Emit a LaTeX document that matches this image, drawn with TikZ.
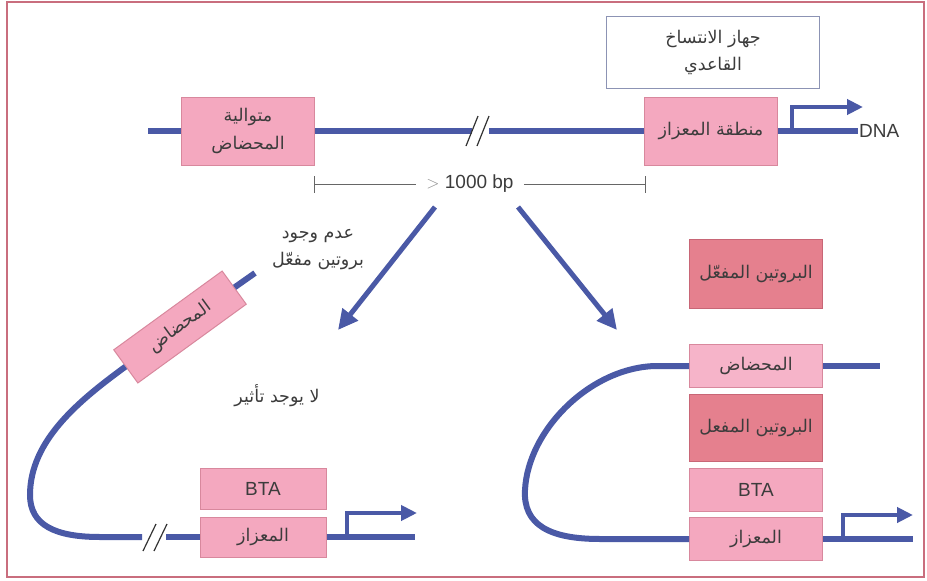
\documentclass[tikz,border=0pt]{standalone}
\usepackage{fontspec}
\setmainfont{Liberation Sans}
\newfontfamily\arabicfont[Script=Arabic]{DejaVu Sans}
\TeXXeTstate=1
\usetikzlibrary{arrows.meta}
\newcommand{\arab}[1]{\beginR#1\endR}
\definecolor{azul}{HTML}{4A59A6}
\definecolor{rosa}{HTML}{F4A8BF}
\definecolor{rosaclaro}{HTML}{F6B4C9}
\definecolor{rosaborda}{HTML}{D8889D}
\definecolor{rosaesc}{HTML}{E5808E}
\definecolor{rosaescborda}{HTML}{C86676}
\definecolor{cinzaborda}{HTML}{8C93B4}
\definecolor{texto}{HTML}{3C3C3C}
\definecolor{moldura}{HTML}{C96E7E}
\begin{document}
\begin{tikzpicture}[x=1pt,y=-1pt]
\tikzstyle{fita}=[line width=6pt, draw=azul]
\tikzstyle{caixa}=[rectangle, draw=rosaborda, line width=1pt, fill=rosa, minimum width=133pt, minimum height=68pt, inner sep=2pt, align=center, text=texto, font=\arabicfont\fontsize{17.5}{28}\selectfont]
\tikzstyle{caixaesc}=[caixa, fill=rosaesc, draw=rosaescborda]
\tikzstyle{latim}=[font=\fontsize{19}{21}\selectfont]
\tikzstyle{rotulo}=[text=texto, align=center, font=\arabicfont\fontsize{17.5}{27}\selectfont]
\tikzstyle{seta}=[line width=5pt, draw=azul, -{Triangle[length=20pt, width=19pt]}]
\tikzstyle{inicio}=[line width=4.5pt, draw=azul, -{Triangle[length=16pt, width=15pt]}]
\tikzstyle{quebra}=[line width=1.2pt, draw=black!80]
\tikzstyle{regua}=[line width=0.8pt, draw=black!60]
\useasboundingbox(0,0)rectangle(927,581);
\draw[moldura, line width=2pt](7,2)rectangle(924,577);
%top strand
\node[draw=cinzaborda, line width=0.8pt, minimum width=213pt, minimum height=72pt, rotulo](basal)at(713,52){\arab{جهاز الانتساخ}\\\arab{القاعدي}};
\node[caixa](enhT)at(248,131){\arab{متوالية}\\\arab{المحضاض}};
\node[caixa](promT)at(711,131){\arab{منطقة المعزاز}};
\coordinate(dnaA)at(148,131);
\coordinate(q1)at(472,131);
\coordinate(q2)at(489,131);
\coordinate(dnaB)at(858,131);
\draw[fita](dnaA)--(enhT.west) (enhT.east)--(q1) (q2)--(promT.west) (promT.east)--(dnaB);
\draw[quebra](466,146)--(478,116) (477,146)--(489,116);
\coordinate(tssT)at(792,131);
\coordinate(tipT)at(863,107);
\draw[inicio](tssT)|-(tipT);
\node[right, inner sep=1pt, text=texto, latim](dnalbl)at(dnaB){DNA};
%distance
\node[text=texto, latim, inner xsep=10pt](bp)at(470,184){\textcolor{black!45}{$>$} 1000 bp};
\coordinate(r1)at(314,184);
\coordinate(r2)at(645,184);
\draw[regua](r1)--(bp.west) (bp.east)--(r2) (314,176)--(314,193) (645,176)--(645,193);
\coordinate(s1)at(435,207);
\coordinate(s2)at(338,330);
\coordinate(s3)at(518,207);
\coordinate(s4)at(617,330);
\draw[seta](s1)--(s2);
\draw[seta](s3)--(s4);
%without activator
\node[rotulo](semativ)at(318,250){\arab{عدم وجود}\\\arab{بروتين مفعّل}};
\node[rotulo](semefeito)at(277,396){\arab{لا يوجد تأثير}};
\node[caixa, minimum width=134pt, minimum height=41pt, rotate=36](enhL)at(180,327){\arab{المحضاض}};
\node[caixa, minimum width=126pt, minimum height=41pt, latim](btaL)at(263,489){BTA};
\node[caixa, minimum width=126pt, minimum height=40pt](promL)at(263,537){\arab{المعزاز}};
\coordinate(fimL)at(255,273);
\coordinate(q3)at(142,537);
\coordinate(q4)at(166,537);
\coordinate(dnaL)at(415,537);
\draw[fita](fimL)--(enhL.east);
\draw[fita](enhL.west)..controls(80,400)and(30,440)..(30,495)..controls(30,525)and(55,537)..(100,537)--(q3);
\draw[fita](q4)--(promL.west) (promL.east)--(dnaL);
\draw[quebra](143,551)--(156,524) (154,551)--(167,524);
\coordinate(tssL)at(347,537);
\coordinate(tipL)at(417,513);
\draw[inicio](tssL)|-(tipL);
%with activator
\node[caixaesc, minimum height=69pt](ativ)at(756,274){\arab{البروتين المفعّل}};
\node[caixa, fill=rosaclaro, minimum height=43pt](enhR)at(756,366){\arab{المحضاض}};
\node[caixaesc, minimum height=67pt](ativR)at(756,428){\arab{البروتين المفعل}};
\node[caixa, minimum height=43pt, latim](btaR)at(756,490){BTA};
\node[caixa, minimum height=43pt](promR)at(756,539){\arab{المعزاز}};
\coordinate(fimR)at(880,366);
\coordinate(dnaR)at(913,539);
\draw[fita](enhR.east)--(fimR);
\draw[fita](enhR.west)--(655,366)..controls(590,368)and(528,430)..(525,490)..controls(523,525)and(550,539)..(600,539)--(promR.west);
\draw[fita](promR.east)--(dnaR);
\coordinate(tssR)at(843,539);
\coordinate(tipR)at(913,515);
\draw[inicio](tssR)|-(tipR);
\end{tikzpicture}
\end{document}
